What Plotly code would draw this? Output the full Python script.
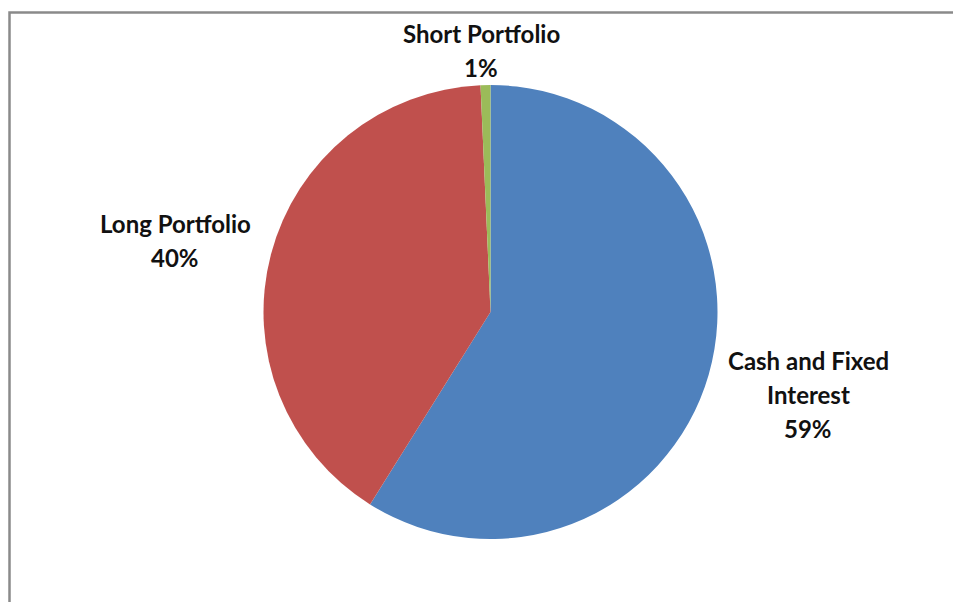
import plotly.graph_objects as go

# Data
labels = ["Cash and Fixed Interest", "Long Portfolio", "Short Portfolio"]
display_lines = [["Cash and Fixed", "Interest"], ["Long Portfolio"], ["Short Portfolio"]]
values = [58.9, 40.4, 0.7]
colors = ["#4F81BD", "#C0504D", "#9BBB59"]

W, H = 961, 602
OFF = 8  # page body margin offset
# label anchor (px) for first line of each slice label
label_pos = [(808, 360), (175, 223), (481, 34)]
line_gap = 34

fig = go.Figure()
cx, cy, r = 490.5 - OFF, 312 - OFF, 227
fig.add_trace(go.Pie(
    labels=labels, values=values, sort=False, direction="clockwise", rotation=0,
    marker=dict(colors=colors, line=dict(width=0)),
    textinfo="none", showlegend=False,
    domain=dict(x=[(cx - r) / W, (cx + r) / W], y=[1 - (cy + r) / H, 1 - (cy - r) / H]),
))

total = sum(values)
annotations = []
for lines, v, (px, py) in zip(display_lines, values, label_pos):
    pct = f"{round(100 * v / total):d}%"
    for i, t in enumerate(lines + [pct]):
        annotations.append(dict(
            x=(px - OFF) / W, y=1 - (py - OFF + i * line_gap) / H, xref="paper", yref="paper",
            text=t, showarrow=False, xanchor="center", yanchor="middle",
            font=dict(family="Lato", size=24, color="#111111", weight="bold"),
        ))

fig.update_layout(
    width=W, height=H, margin=dict(l=0, r=0, t=0, b=0),
    paper_bgcolor="white", plot_bgcolor="white",
    annotations=annotations,
    shapes=[dict(type="rect", xref="paper", yref="paper",
                 x0=(9.5 - OFF) / W, x1=1.05, y0=-0.05, y1=1 - (12.5 - OFF) / H,
                 line=dict(color="#8a8a8a", width=2.5))],
)
fig.write_html("out.html")
